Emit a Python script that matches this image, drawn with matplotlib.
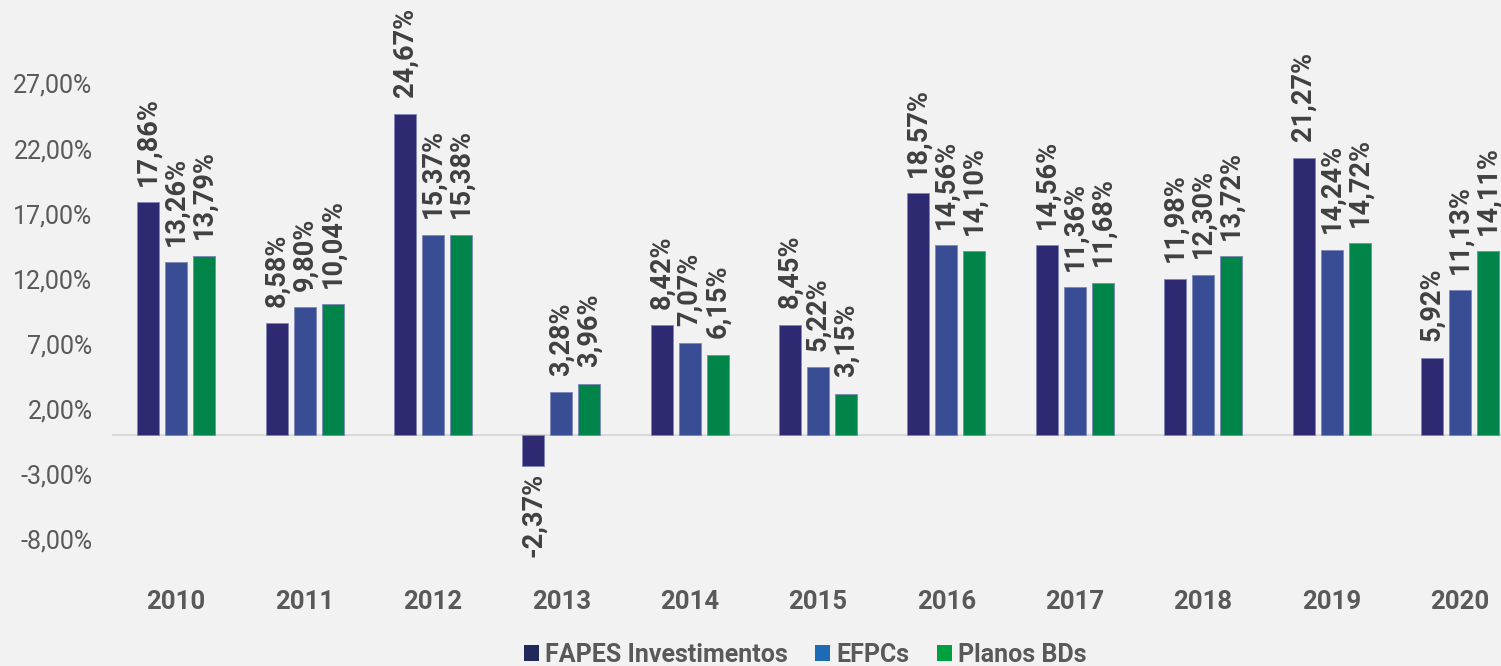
import numpy as np
import matplotlib.pyplot as plt
from matplotlib.patches import Patch

plt.rcParams['font.family'] = ['Roboto', 'DejaVu Sans']

anos = ['2010', '2011', '2012', '2013', '2014', '2015', '2016', '2017', '2018', '2019', '2020']
fapes = [17.86, 8.58, 24.67, -2.37, 8.42, 8.45, 18.57, 14.56, 11.98, 21.27, 5.92]
efpcs = [13.26, 9.80, 15.37, 3.28, 7.07, 5.22, 14.56, 11.36, 12.30, 14.24, 11.13]
planos_bd = [13.79, 10.04, 15.38, 3.96, 6.15, 3.15, 14.10, 11.68, 13.72, 14.72, 14.11]

series = [('FAPES Investimentos', fapes, '#2E2A72', '#1F2A5A'),
          ('EFPCs', efpcs, '#394D94', '#1E6BB5'),
          ('Planos BDs', planos_bd, '#00844A', '#00A040')]

bg = '#F2F2F2'
fig = plt.figure(figsize=(15.01, 6.66), dpi=100, facecolor=bg)
ax = fig.add_axes([112 / 1501, 94 / 666, 1 - 112 / 1501, 572 / 666])
ax.set_facecolor(bg)

x = np.arange(len(anos))
largura = 0.171
passo = 0.218

for i, (nome, vals, cor, _) in enumerate(series):
    pos = x + (i - 1) * passo
    ax.bar(pos, vals, width=largura, color=cor, edgecolor='#7f86b8', linewidth=0.6)
    for px, v in zip(pos, vals):
        txt = f'{v:.2f}%'.replace('.', ',')
        if v >= 0:
            ax.annotate(txt, (px, v), xytext=(0, 12), textcoords='offset points',
                        rotation=90, ha='center', va='bottom',
                        fontsize=19.5, fontweight='bold', color='#404040')
        else:
            ax.annotate(txt, (px, v), xytext=(0, -5), textcoords='offset points',
                        rotation=90, ha='center', va='top',
                        fontsize=19.5, fontweight='bold', color='#404040')

ax.axhline(0, color='#D9D9D9', linewidth=1.5, zorder=0)
ax.set_xlim(-0.5, 10.32)
ax.set_ylim(-10.5, 33.4)
ax.set_yticks(np.arange(-8, 28, 5))
ax.set_yticklabels([f'{t:.2f}%'.replace('.', ',') for t in np.arange(-8, 28, 5)],
                   fontsize=18, color='#595959')
ax.set_xticks(x)
ax.set_xticklabels(anos, fontsize=18.5, fontweight='bold', color='#595959')
ax.tick_params(axis='y', length=0, pad=14)
ax.tick_params(axis='x', length=0, pad=13)
for s in ax.spines.values():
    s.set_visible(False)

handles = [Patch(facecolor=leg, label=nome) for nome, _, _, leg in series]
fig.legend(handles=handles, loc='lower center', bbox_to_anchor=(805 / 1501, -0.035),
           ncol=3, frameon=False, handlelength=0.6, handleheight=0.6,
           handletextpad=0.25, columnspacing=1.1,
           prop={'size': 18, 'weight': 'bold'}, labelcolor='#595959')

fig.savefig('out.png', dpi=100, facecolor=bg)
